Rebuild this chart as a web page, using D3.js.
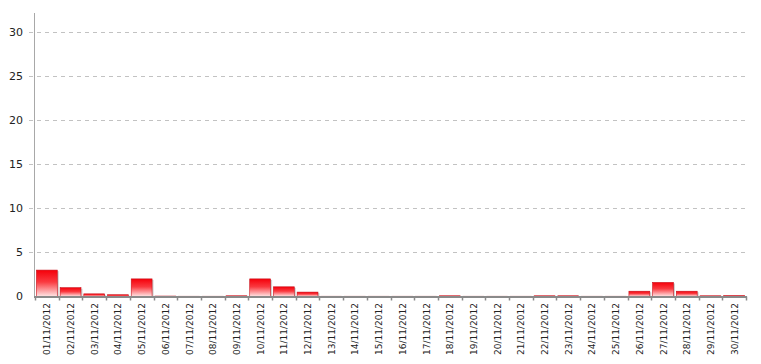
<!DOCTYPE html>
<html>
<head>
<meta charset="utf-8">
<script src="https://cdn.jsdelivr.net/npm/d3@7"></script>
<style>
  html, body { margin: 0; padding: 0; background: #fff; }
  svg { display: block; }
</style>
</head>
<body>
<svg id="chart" width="761" height="364"></svg>
<script>
// Daily values for November 2012
const days = ["01/11/2012","02/11/2012","03/11/2012","04/11/2012","05/11/2012","06/11/2012",
  "07/11/2012","08/11/2012","09/11/2012","10/11/2012","11/11/2012","12/11/2012","13/11/2012",
  "14/11/2012","15/11/2012","16/11/2012","17/11/2012","18/11/2012","19/11/2012","20/11/2012",
  "21/11/2012","22/11/2012","23/11/2012","24/11/2012","25/11/2012","26/11/2012","27/11/2012",
  "28/11/2012","29/11/2012","30/11/2012"];
const values = [3, 1, 0.3, 0.2, 2, 0.05, 0.03, 0.03, 0.08, 2, 1.1, 0.5, 0.03,
  0.03, 0.03, 0.03, 0.03, 0.08, 0.03, 0.03, 0.03, 0.08, 0.08, 0.03, 0.03, 0.6, 1.6,
  0.6, 0.08, 0.1];
const yTicks = [0, 5, 10, 15, 20, 25, 30];

const svg = d3.select("#chart");
const plotLeft = 35, plotRight = 746, plotTop = 13, plotBottom = 296.5;

const x = d3.scaleBand().domain(days).range([plotLeft, plotRight]).paddingInner(0.12).paddingOuter(0.06);
const y = d3.scaleLinear().domain([0, 32.2]).range([plotBottom, plotTop]);

// Bar fill gradient: saturated red at the top, fading to pale pink
const defs = svg.append("defs");
const grad = defs.append("linearGradient").attr("id", "barFill")
  .attr("x1", 0).attr("y1", 0).attr("x2", 0).attr("y2", 1);
grad.append("stop").attr("offset", "0%").attr("stop-color", "#f5000a");
grad.append("stop").attr("offset", "45%").attr("stop-color", "#fa3a40");
grad.append("stop").attr("offset", "100%").attr("stop-color", "#ffe6e6");

// Horizontal dashed gridlines
svg.append("g").selectAll("line").data(yTicks).join("line")
  .attr("x1", 29).attr("x2", plotRight)
  .attr("y1", d => Math.round(y(d)) + 0.5).attr("y2", d => Math.round(y(d)) + 0.5)
  .attr("stroke", d => d === 0 ? "none" : "#c2c2c2")
  .attr("stroke-dasharray", "4,4");

// Y tick labels
svg.append("g").selectAll("text").data(yTicks).join("text")
  .attr("x", 23).attr("y", d => y(d))
  .attr("dy", "0.36em")
  .attr("text-anchor", "end")
  .attr("font-family", "DejaVu Sans, Verdana, sans-serif")
  .attr("font-size", 11)
  .attr("fill", "#222")
  .text(d => d);

// Vertical axis line
svg.append("line")
  .attr("x1", plotLeft - 0.5).attr("x2", plotLeft - 0.5)
  .attr("y1", plotTop).attr("y2", plotBottom)
  .attr("stroke", "#a8a8a8");

// Bar shadows
const bars = svg.append("g");
bars.selectAll("rect.shadow").data(values).join("rect")
  .attr("class", "shadow")
  .attr("x", (d, i) => x(days[i]) + 1.5)
  .attr("y", d => y(d) + 1)
  .attr("width", x.bandwidth())
  .attr("height", d => Math.max(0, plotBottom - y(d) - 1))
  .attr("fill", "#999").attr("opacity", 0.45);

// Bars
bars.selectAll("rect.bar").data(values).join("rect")
  .attr("class", "bar")
  .attr("x", (d, i) => x(days[i]))
  .attr("y", d => y(d))
  .attr("width", x.bandwidth())
  .attr("height", d => plotBottom - y(d))
  .attr("fill", "url(#barFill)")
  .attr("stroke", "#c8101a")
  .attr("stroke-width", 0.6);

// X axis baseline and tick marks
svg.append("line")
  .attr("x1", plotLeft - 1).attr("x2", plotRight + 1)
  .attr("y1", plotBottom + 0.5).attr("y2", plotBottom + 0.5)
  .attr("stroke", "#8a8a8a").attr("stroke-width", 2);

const edges = days.map(d => x(d) - x.step() * x.paddingInner() / 2).concat([plotRight]);
svg.append("g").selectAll("line").data(edges).join("line")
  .attr("x1", d => Math.round(d) + 0.5).attr("x2", d => Math.round(d) + 0.5)
  .attr("y1", plotBottom).attr("y2", plotBottom + 4)
  .attr("stroke", "#8a8a8a").attr("stroke-width", 1.5);

// Rotated date labels
svg.append("g").selectAll("text").data(days).join("text")
  .attr("transform", d => `translate(${x(d) + x.bandwidth() / 2 + 3.5},303) rotate(-90)`)
  .attr("text-anchor", "end")
  .attr("font-family", "DejaVu Sans, Verdana, sans-serif")
  .attr("font-size", 9)
  .attr("fill", "#222")
  .text(d => d);
</script>
</body>
</html>
